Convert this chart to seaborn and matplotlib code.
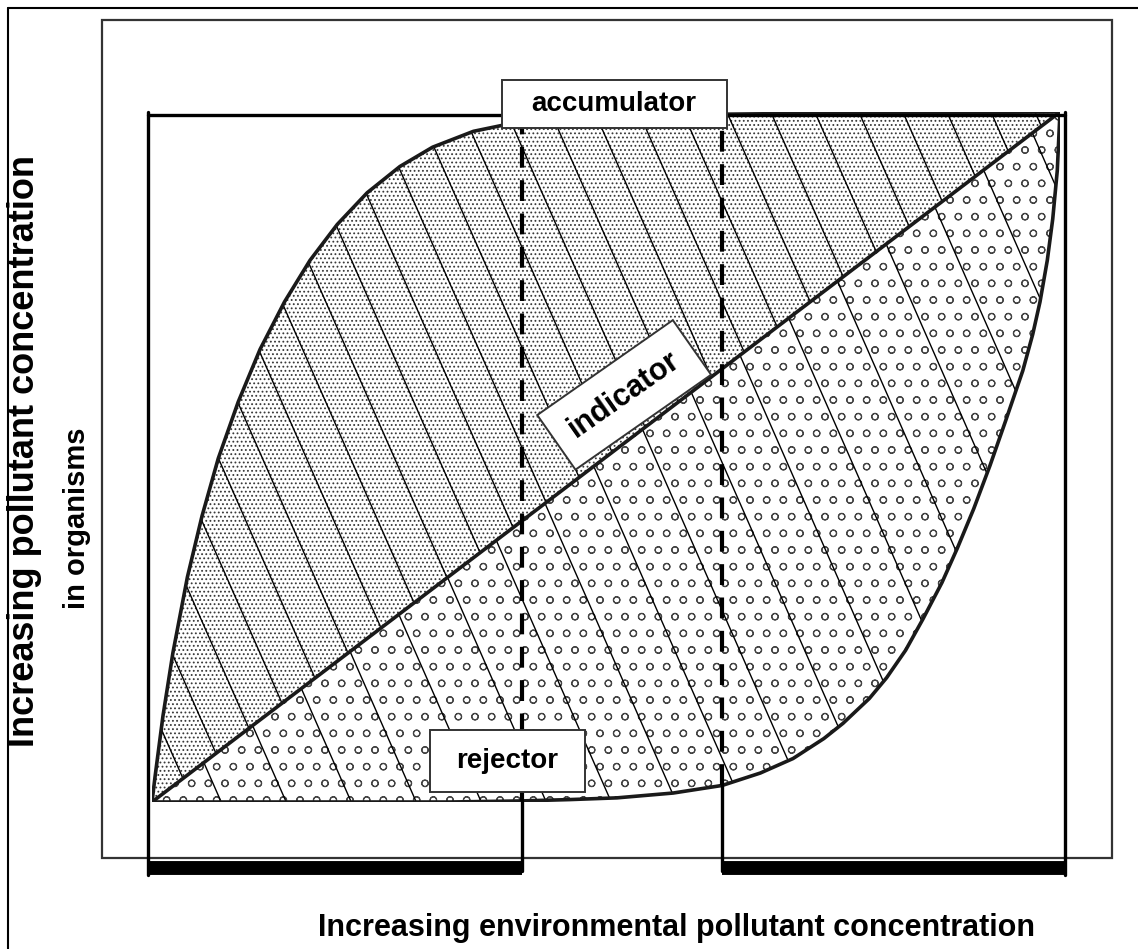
import numpy as np
import seaborn as sns
import matplotlib.pyplot as plt
from matplotlib.patches import Rectangle
from matplotlib.lines import Line2D

# curves (x: environmental conc., y: conc. in organisms, 0-100)
acc_x = [0, 0.33, 1.2, 2.3, 3.9, 5.5, 7.3, 9.5, 11.9, 14.6, 17.4, 20.4, 23.7,
         27.3, 30.9, 35.4, 40.9, 50, 60.4, 80, 100]
acc_y = [0, 3.6, 12.4, 21.6, 32.6, 41.4, 49.8, 58.0, 65.6, 72.5, 78.5, 83.7, 88.3,
         92.1, 94.9, 97.2, 98.7, 99.3, 99.65, 99.9, 100]
ind_x = [0, 100]
ind_y = [0, 100]
rej_x = [0, 20, 32.8, 40.5, 46, 51.2, 57.4, 62.8, 67, 70.6, 74, 76.1, 79, 80.9,
         83, 84.9, 87, 88.7, 90.5, 92.3, 94, 95.9, 97, 97.8, 98.6, 99.2, 99.7, 100]
rej_y = [0, 0, 0, 0.15, 0.35, 0.6, 1.3, 2.4, 4.2, 6.3, 9.2, 11.4, 15.0, 18.0,
         22.0, 26.5, 31.8, 36.8, 42.5, 48.8, 55.2, 62.5, 67.8, 72.5, 78.5, 84.5, 91.5, 100]

# dashed limits and the two black ranges under the box
limits = [40.8, 62.8]
ranges = [(-0.4, 40.8), (62.8, 100.5)]

labels = ["accumulator", "indicator", "rejector"]
xlabel = "Increasing environmental pollutant concentration"
ylabel = ["Increasing pollutant concentration", "in organisms"]

sns.set_style("white")
plt.rcParams["font.family"] = ["Liberation Sans", "DejaVu Sans"]
plt.rcParams["text.color"] = "black"
plt.rcParams["hatch.linewidth"] = 0.8

fig = plt.figure(figsize=(11.38, 9.49), dpi=100)
W, H = 1138, 949
ax = fig.add_axes([152 / W, 1 - 802 / H, 908 / W, 690 / H])
ax.set_xlim(0, 100)
ax.set_ylim(0, 100)
ax.set_axis_off()

# filled regions
upper = ax.fill(list(acc_x) + ind_x[::-1], list(acc_y) + ind_y[::-1],
                facecolor="white", edgecolor="#383838", lw=0, hatch="....", zorder=1)[0]
lower = ax.fill(ind_x + rej_x[::-1], ind_y + rej_y[::-1],
                facecolor="white", edgecolor="#444444", lw=0, hatch="o", zorder=1)[0]

# slanted lines inside each region
slope = 0.334
ys = np.array([-5, 110])
for poly, start, step in [(upper, 67.6, 4.85), (lower, 64.9, 7.16)]:
    for x0 in np.arange(start % step, 140, step):
        ln, = ax.plot(x0 - slope * ys, ys, color="black", lw=1.0, zorder=2)
        ln.set_clip_path(poly)

# the three curves
for xs, yv in [(acc_x, acc_y), (ind_x, ind_y), (rej_x, rej_y)]:
    sns.lineplot(x=xs, y=yv, ax=ax, color="#1a1a1a", lw=2.6, zorder=3)

# outer plot box
box_kw = dict(color="black", lw=2.4, clip_on=False, zorder=4)
ax.plot([-0.4, -0.4], [100, -10.6], **box_kw)
ax.plot([100.5, 100.5], [100, -10.6], **box_kw)
ax.plot([-0.4, 100.5], [99.6, 99.6], **box_kw)

# dashed limits, solid below the rejector curve
for xl in limits:
    y_rej = np.interp(xl, rej_x, rej_y)
    ax.plot([xl, xl], [y_rej, 99.6], color="black", lw=3, ls=(0, (5, 3)),
            clip_on=False, zorder=4)
    ax.plot([xl, xl], [-10, y_rej], color="black", lw=2.4, clip_on=False, zorder=4)

for a, b in ranges:
    ax.plot([a, b], [-9.6, -9.6], color="black", lw=10, solid_capstyle="butt",
            clip_on=False, zorder=4)

# thin frame behind everything
ax.add_patch(Rectangle((-5.5, -8.1), 111.2, 121.4, fill=False, ec="#333333",
                       lw=1.6, clip_on=False, zorder=0))

# label boxes
ax.add_patch(Rectangle((38.5, 97.7), 24.8, 6.9, fc="white", ec="#333333",
                       lw=1.4, clip_on=False, zorder=5))
ax.text(50.9, 101.2, labels[0], ha="center", va="center", fontsize=20,
        fontweight="bold", color="black", zorder=6)
ax.add_patch(Rectangle((30.6, 1.45), 17.1, 8.95, fc="white", ec="#333333",
                       lw=1.4, clip_on=False, zorder=5))
ax.text(39.1, 5.9, labels[2], ha="center", va="center", fontsize=20,
        fontweight="bold", color="black", zorder=6)
ax.text(52.0, 59.0, labels[1], ha="center", va="center", rotation=35,
        rotation_mode="anchor", fontsize=22, fontweight="bold", color="black", zorder=6,
        bbox=dict(boxstyle="square,pad=0.6", fc="white", ec="#333333", lw=1.4))

# axis titles
fig.text(676 / W, 1 - 928 / H, xlabel, ha="center", va="center", fontsize=22,
         fontweight="bold", color="black")
fig.text(25 / W, 1 - 451 / H, ylabel[0], ha="center", va="center", rotation=90,
         fontsize=26, fontweight="bold", color="black")
fig.text(77 / W, 1 - 518 / H, ylabel[1], ha="center", va="center", rotation=90,
         fontsize=21, fontweight="bold", color="black")

# outer frame (top and left only)
fig.add_artist(Line2D([8 / W, 1], [1 - 8 / H] * 2, color="black", lw=1.5))
fig.add_artist(Line2D([8 / W] * 2, [0, 1 - 8 / H], color="black", lw=1.5))

fig.savefig("out.png", dpi=100)
